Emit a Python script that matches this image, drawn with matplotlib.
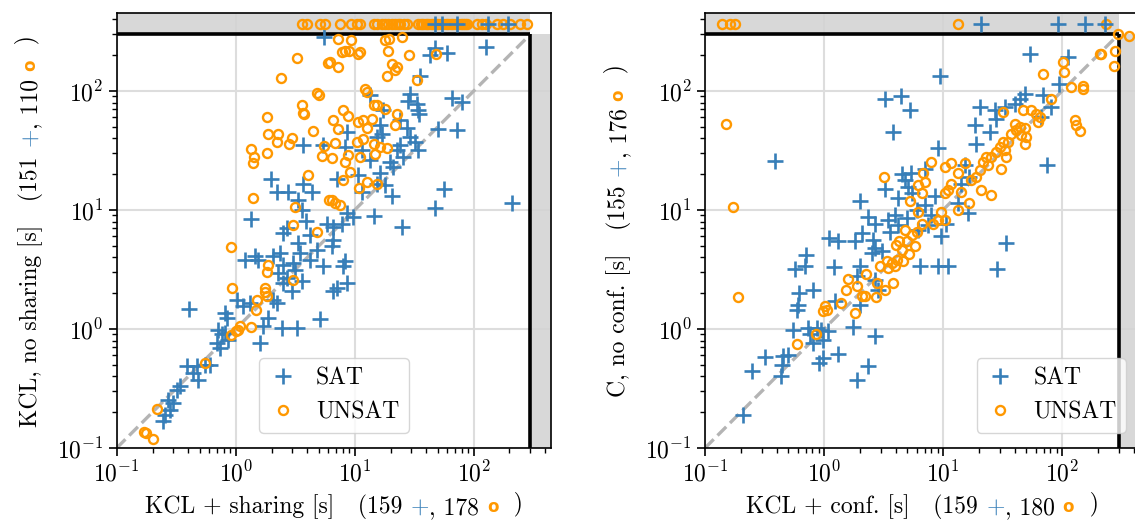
import numpy as np
import matplotlib
matplotlib.use("Agg")
import matplotlib.pyplot as plt

plt.rcParams.update({
    "font.family": "serif",
    "font.serif": ["cmr10"],
    "mathtext.fontset": "cm",
    "axes.formatter.use_mathtext": True,
    "axes.unicode_minus": False,
    "font.size": 17,
})

BLUE = "#377eb8"
ORANGE = "#ff9800"
TIMEOUT = 300
AX_MIN, AX_MAX = 0.1, 450

# ---- left panel: KCL + sharing (x) vs KCL, no sharing (y), runtimes in s
share_sat = [
    (5.5, 287), (3.7, 35.5), (5.45, 35), (1.98, 18.1), (2.21, 14.3), (2.77, 14.3), (3.66, 16.7),
    (4.35, 14.3), (3.36, 12.1), (3.59, 10.1), (1.35, 8.35), (3.9, 8.1), (2.68, 7.1), (5.8, 7.7),
    (47.3, 231), (43, 199), (59.3, 208), (128, 234), (35.4, 135), (29.2, 95), (28.3, 82.4),
    (33.2, 78.3), (34.3, 68.9), (34.9, 63.7), (65.3, 88), (79.3, 81), (13.5, 92), (17.4, 68.9),
    (24, 56.8), (27.4, 49.3), (16.3, 51.5), (16.9, 43.9), (15.3, 41.2), (50.5, 47.8), (72, 46.8),
    (29.2, 41.2), (32.1, 37.4), (24, 35.1), (22.5, 31.9), (34.3, 31.9), (25.6, 28), (8.6, 45.3),
    (8.3, 34), (11.5, 31.9), (13.5, 26.2), (19.8, 25.4), (21.1, 23.1), (16.3, 20.3), (15.3, 16.7),
    (10.7, 19.6), (7.1, 18.4), (18, 16.2), (11.5, 14.3), (20.5, 13), (56.6, 14.9), (208, 11.5),
    (47.3, 10.3), (8.6, 9.4), (9.7, 8.8), (14.4, 8.9), (24.8, 7.2), (6.6, 7.2), (7.8, 7.7),
    (2.52, 6.4), (3.36, 5.28), (4.2, 6.2), (4.8, 4.64), (5.45, 3.36), (4.2, 3.83), (3.47, 4.35),
    (3.05, 3.59), (2.36, 4.35), (2.07, 4.08), (2.52, 3.47), (2.28, 2.96), (2.68, 2.68), (3.15, 3.15),
    (3.59, 2.52), (2.52, 2.44), (2.96, 2.07), (1.2, 3.83), (1.45, 4.08), (1.55, 3.83), (2.07, 1.76),
    (2.21, 1.65), (1.02, 1.76), (1.16, 1.55), (1.32, 1.65), (0.405, 1.47), (0.81, 1.36), (0.84, 1.24),
    (1.88, 1.24), (1.71, 1.05), (2.44, 1.02), (3.26, 1.02), (5.1, 1.21), (1.6, 0.76), (0.71, 0.99),
    (0.76, 0.9), (0.69, 0.76), (0.74, 0.69), (0.87, 0.81), (0.81, 0.92), (0.39, 0.49), (0.47, 0.49),
    (0.55, 0.5), (0.44, 0.43), (0.485, 0.375), (0.61, 0.5), (0.34, 0.33), (0.32, 0.31), (0.27, 0.255),
    (0.30, 0.239), (0.28, 0.21), (0.255, 0.19), (0.247, 0.168), (6.4, 4.95), (6.6, 5.6), (8.3, 3.7),
    (8.0, 3.36), (8.6, 2.44), (7.1, 2.21), (6.6, 2.07),
]
share_unsat = [
    (3.26, 190), (6.0, 173), (2.39, 128), (4.86, 97), (5.05, 92), (3.59, 76), (3.66, 65.5),
    (3.75, 64), (1.85, 61), (4.5, 46), (1.88, 43.9), (2.28, 43.9), (2.24, 37), (2.95, 40.6),
    (2.82, 35.7), (1.82, 30.4), (1.34, 32.4), (1.43, 27.8), (1.40, 25), (5.56, 34.8), (5.28, 28.5),
    (4.08, 19.6), (1.41, 12.7), (3.15, 10.7), (3.01, 7.5), (6.1, 12.1),
    (7.3, 275), (9.4, 266), (7.8, 212), (8.3, 216), (8.9, 219), (11.0, 212), (10.6, 206),
    (6.2, 175), (7.3, 159), (18, 266), (19.5, 275), (24.8, 287), (19.2, 216), (28.8, 199),
    (20.5, 169), (22.5, 159), (21.8, 151), (18.6, 135), (48, 205), (33.2, 124), (12.2, 103),
    (12.6, 98), (14.4, 76), (15.3, 77), (18, 71), (22.5, 63.7), (8.0, 69), (8.8, 61.4), (6.6, 56.8),
    (7.3, 48.3), (10.7, 55), (11.8, 56.8), (12.6, 49.3), (13.9, 58.6), (21.8, 51.5), (6.8, 36.6),
    (10.4, 37.4), (11.8, 39.9), (14.4, 36.2), (16.3, 34), (18.6, 32.9), (8.8, 28.9), (8.3, 25.4),
    (11.1, 28), (14.8, 29.5), (6.4, 27.1), (9.1, 20.9), (7.9, 17.8), (12.6, 17.3), (15.3, 16.7),
    (10.9, 15.4), (6.4, 12.1), (6.8, 11.5), (7.5, 11.0),
    (0.91, 4.86), (4.8, 6.5), (1.88, 3.47), (1.82, 3.0), (3.01, 2.56), (0.94, 2.21), (1.76, 2.21),
    (1.76, 2.03), (1.82, 1.88), (1.5, 1.76), (1.47, 1.45), (1.09, 1.05), (1.05, 0.99), (1.0, 0.96),
    (0.91, 0.89), (1.34, 1.03), (0.55, 0.52), (0.217, 0.213), (0.168, 0.135), (0.176, 0.134),
    (0.20, 0.119),
]
# instances solved by x but timed out on y
share_sat_to = [47, 54, 72, 132, 196]
share_unsat_to = [3.6, 3.95, 5.1, 5.6, 7.5, 9.4, 10.4, 11.1, 14.5, 15.3, 16.9, 18, 19.2, 20.5,
                  21.8, 23, 24, 25.8, 27.4, 34.3, 36, 37.8, 39.5, 41.6, 43.5, 45.8, 48, 50.5,
                  53, 55.6, 58, 61.2, 64, 67.5, 70.5, 74.3, 77.8, 81.8, 84, 87.3, 106, 117, 128,
                  156, 177, 202, 245, 279]

# ---- right panel: KCL + conf. (x) vs C, no conf. (y)
conf_sat = [
    (0.387, 25.9), (3.26, 86), (4.44, 90), (3.83, 45.3), (3.26, 15), (2.01, 12), (2.36, 8.8),
    (2.68, 7.7), (3.47, 8.2), (3.95, 9.1),
    (53.5, 205), (112, 193), (9.4, 135), (93.8, 115), (5.25, 68.9), (48.5, 95), (44, 86.3),
    (40, 78.3), (33, 73.5), (27.2, 68.9), (20.3, 73.5), (18.5, 51.5), (19, 36.2), (24.7, 45.3),
    (28, 58.6), (69.2, 92), (81.3, 73.5), (67, 60.5), (75.4, 23.8), (9.1, 32.9), (5.4, 20.3),
    (7.0, 22.3), (15.2, 23.8), (16.7, 19), (14.3, 16.7), (7.0, 11), (8.5, 13), (13.4, 11.4),
    (10.7, 7.7), (16.2, 9.4), (5.1, 15.7),
    (0.21, 0.19), (0.25, 0.44), (0.32, 0.58), (0.435, 0.40), (0.44, 0.5), (0.455, 0.59), (0.5, 0.61),
    (0.55, 0.99), (0.74, 1.02), (0.76, 0.9), (0.81, 0.76), (0.87, 1.02), (0.95, 0.99), (0.99, 0.81),
    (1.09, 0.955), (0.9, 0.52), (0.99, 0.57), (1.32, 0.62), (1.88, 0.375), (2.33, 0.485), (1.76, 1.04),
    (2.68, 0.87), (0.61, 1.6), (0.59, 1.45), (0.62, 2.01), (0.81, 2.11), (0.57, 3.19), (0.69, 3.36),
    (0.71, 4.22), (1.22, 3.32), (1.1, 5.8), (1.32, 5.45), (1.82, 5.45), (2.07, 6.4), (2.6, 5.6),
    (2.68, 4.8), (3.05, 4.5), (2.52, 4.35), (1.88, 2.77), (2.01, 3.36), (2.68, 2.6), (2.86, 2.14),
    (2.01, 1.6), (1.24, 1.71),
    (34, 5.28), (28.6, 3.19), (6.4, 3.36), (9.1, 3.36), (11.0, 3.36), (9.7, 6.0),
    (4.5, 20), (4.8, 18), (5.5, 14), (6.0, 10), (4.2, 12.5), (3.6, 6.5), (4.2, 7.5), (5.0, 8.5),
    (6.2, 6.8), (7.5, 7.5), (8.0, 9.0),
]
conf_unsat = [
    (0.149, 53.2), (0.173, 10.5), (3.19, 19),
    (296, 299), (280, 219), (273, 161), (214, 205), (207, 205), (102, 175), (105, 144), (69, 140),
    (120, 108), (150, 111), (150, 103), (81, 86), (128, 56.8), (132, 51.5), (141, 46.2), (31.9, 66.7),
    (47, 69.8), (55.2, 68.9), (60.8, 64.6), (64.9, 60.5), (62.8, 55), (40, 53.2), (44, 49.9),
    (48.5, 49.3), (41.3, 46.8), (37.5, 43.9), (45.5, 42.5), (50.1, 41.2), (48.5, 36.2), (35.2, 37.4),
    (31.9, 37.4), (29.9, 34), (33, 31.8), (28, 30.8), (25.5, 28), (23.1, 28), (21.7, 25.4),
    (23.9, 23.8), (20.3, 21.6), (19, 19), (17.3, 17.8), (15.2, 24.6), (11.7, 24.6), (13.4, 20.3),
    (10.3, 23.1), (8.0, 25.4), (11.7, 16.7), (11, 14.7), (10.3, 13.8), (14.3, 14.3), (21, 14.7),
    (25.1, 13.4), (16.7, 11.4), (13.4, 10), (9.7, 9.7), (9.1, 8.2), (8.2, 7.7), (6.6, 13.8),
    (7.0, 17.3), (6.8, 20.3), (6.2, 16.2), (5.25, 12), (6.2, 9.7), (6.6, 7.7), (10.3, 8.2),
    (30.9, 22.3), (34, 28),
    (0.188, 1.86), (0.59, 0.75), (0.86, 0.90), (1.02, 1.55), (0.99, 1.41), (1.05, 1.45), (1.38, 1.65),
    (1.82, 1.36), (1.52, 2.14), (1.6, 2.63), (1.88, 2.28), (2.24, 2.9), (2.07, 1.88), (2.21, 1.91),
    (2.72, 1.86), (2.77, 2.44), (3.26, 2.14), (3.83, 2.44), (2.96, 3.4), (3.36, 3.7), (3.7, 3.59),
    (3.95, 3.36), (3.47, 3.26), (4.08, 3.83), (4.0, 5.1), (4.64, 3.7), (4.27, 5.45),
    (4.5, 4.6), (5.0, 5.5), (5.5, 6.2), (4.8, 6.8), (5.8, 5.0), (5.2, 4.3), (6.0, 6.5),
]
conf_sat_to = [21, 92.5, 155, 228]
conf_unsat_to = [0.138, 0.162, 0.179, 13.4, 236]
conf_unsat_xto = [292]   # timed out on x, solved on y

panels = [
    dict(sat=share_sat, unsat=share_unsat, sat_to=share_sat_to, unsat_to=share_unsat_to, xto=[],
         xlabel=("KCL + sharing [s]   (159 ", ", 178 "), ylabel=("KCL, no sharing [s]   (151 ", ", 110 "),
         legend=dict(loc="lower center", bbox_to_anchor=(0.5, 0.035))),
    dict(sat=conf_sat, unsat=conf_unsat, sat_to=conf_sat_to, unsat_to=conf_unsat_to, xto=conf_unsat_xto,
         xlabel=("KCL + conf. [s]   (159 ", ", 180 "), ylabel=("C, no conf. [s]   (155 ", ", 176 "),
         legend=dict(loc="lower right", bbox_to_anchor=(0.9685, 0.035))),
]

W, H = 1135, 522
fig = plt.figure(figsize=(W / 100, H / 100), dpi=100)
side = 434.7
lefts = [116.7, 705.0]
bottom = 522 - 448.0
to_pos = np.sqrt(TIMEOUT * AX_MAX)

sat_kw = dict(ls="none", marker="+", ms=11, mew=1.9, color=BLUE, zorder=4)
uns_kw = dict(ls="none", marker="o", ms=6.5, mew=1.7, mfc="none", mec=ORANGE, zorder=4)

labels = []
for p, lx in zip(panels, lefts):
    ax = fig.add_axes([lx / W, bottom / H, side / W, side / H])
    ax.set_xscale("log")
    ax.set_yscale("log")
    ax.set_xlim(AX_MIN, AX_MAX)
    ax.set_ylim(AX_MIN, AX_MAX)
    ax.grid(True, which="major", color="#dddddd", lw=1.5)
    ax.set_axisbelow(True)

    # timeout bands
    ax.fill_between([AX_MIN, TIMEOUT], TIMEOUT, AX_MAX, color="#d4d4d4", alpha=0.9, lw=0, zorder=1)
    ax.fill_betweenx([AX_MIN, TIMEOUT], TIMEOUT, AX_MAX, color="#d4d4d4", alpha=0.9, lw=0, zorder=1)
    ax.plot([AX_MIN, TIMEOUT], [TIMEOUT, TIMEOUT], color="black", lw=2.6, zorder=3, solid_capstyle="butt")
    ax.plot([TIMEOUT, TIMEOUT], [AX_MIN, TIMEOUT], color="black", lw=2.6, zorder=3, solid_capstyle="butt")
    ax.plot([AX_MIN, TIMEOUT], [AX_MIN, TIMEOUT], ls="--", color="#b4b4b4", lw=2.4, zorder=2)

    sx, sy = np.array(p["sat"]).T
    ux, uy = np.array(p["unsat"]).T
    ax.plot(sx, sy, label="SAT", **sat_kw)
    ax.plot(ux, uy, label="UNSAT", **uns_kw)
    ax.plot(p["unsat_to"], np.full(len(p["unsat_to"]), to_pos), clip_on=False, **uns_kw)
    if p["xto"]:
        ax.plot(np.full(len(p["xto"]), to_pos), p["xto"], clip_on=False, **uns_kw)
    ax.plot(p["sat_to"], np.full(len(p["sat_to"]), to_pos), **sat_kw)

    ax.tick_params(which="major", length=6, width=1.2)
    ax.tick_params(which="minor", length=3.5, width=1)
    for s in ax.spines.values():
        s.set_linewidth(1.2)

    ax.legend(borderaxespad=0, handlelength=1.2, fontsize=17, edgecolor="#cccccc", **p["legend"])

    # axis labels with coloured markers, built from pieces
    for axis, (a, b) in (("x", p["xlabel"]), ("y", p["ylabel"])):
        vert = axis == "y"
        rot = 90 if vert else 0
        first = ax.annotate(a, xy=(0, 0), xycoords="figure pixels", rotation=rot,
                            ha="right" if vert else "left", va="bottom", annotation_clip=False)
        pieces = [(r"$\mathbf{+}$", BLUE, 17, (0, 0), "serif"),
                  (b, "black", 17, (0, 0), "serif"),
                  ("o", ORANGE, 12, (0, 2.5), "DejaVu Sans"),
                  ("  )", "black", 17, (0, 0), "serif")]
        texts = [first]
        prev = first
        for s, c, fs, off, fam in pieces:
            if vert:
                off = (-off[1], off[0])
            t = ax.annotate(s, xy=(1, 1) if vert else (1, 0), xycoords=prev,
                            xytext=off, textcoords="offset points", color=c, fontsize=fs,
                            family=fam, fontweight="bold" if fam != "serif" else "normal",
                            rotation=rot, ha="right" if vert else "left", va="bottom",
                            annotation_clip=False)
            texts.append(t)
            prev = t
        labels.append((ax, vert, first, texts))


def place(ann, x, y):
    ann.xy = (x, y)
    ann.xyann = (x, y)


fig.canvas.draw()
r = fig.canvas.get_renderer()
for ax, vert, first, texts in labels:
    bb = ax.get_window_extent(r)
    if vert:
        place(first, bb.x0 - 74, 0)
    else:
        place(first, 0, 3)
fig.canvas.draw()
for ax, vert, first, texts in labels:
    bb = ax.get_window_extent(r)
    exts = [t.get_window_extent(r) for t in texts]
    if vert:
        lo = min(e.y0 for e in exts); hi = max(e.y1 for e in exts)
        place(first, first.xy[0], (bb.y0 + bb.y1) / 2 - (hi - lo) / 2)
    else:
        lo = min(e.x0 for e in exts); hi = max(e.x1 for e in exts)
        place(first, (bb.x0 + bb.x1) / 2 - (hi - lo) / 2, first.xy[1])

fig.savefig("out.png", dpi=100)
